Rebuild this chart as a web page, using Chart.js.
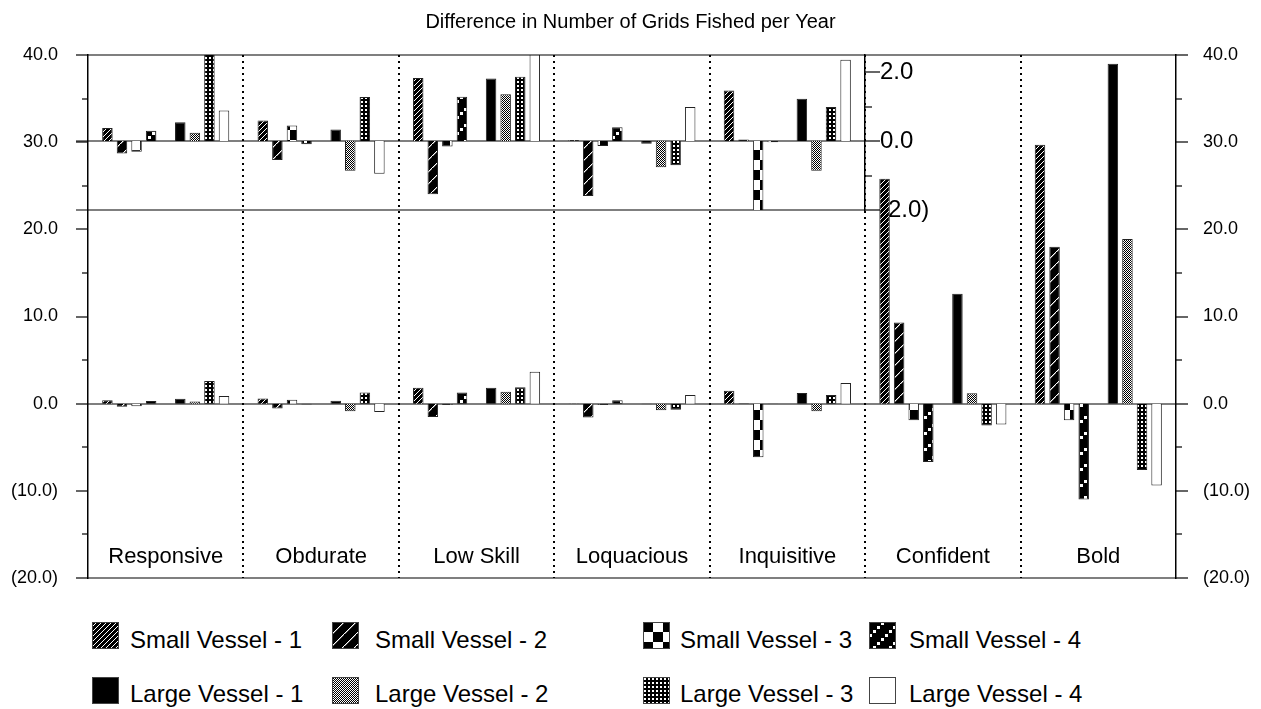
<!DOCTYPE html>
<html>
<head>
<meta charset="utf-8">
<title>Difference in Number of Grids Fished per Year</title>
<script src="https://cdn.jsdelivr.net/npm/chart.js@4/dist/chart.umd.min.js"></script>
<style>
  body { margin: 0; background: #fff; font-family: "Liberation Sans", Arial, Helvetica, sans-serif; }
  #wrap { position: relative; width: 1261px; height: 709px; overflow: hidden; background: #fff; }
  #inset { position: absolute; left: 0; top: 0; z-index: 1; }
  #main { position: absolute; left: 0; top: 0; z-index: 2; }
  .swatch { position: absolute; z-index: 3; }
  .legend-name { position: absolute; z-index: 3; font-size: 24px; line-height: 27px; color: #000; white-space: nowrap; }
</style>
</head>
<body>
<div id="wrap">
  <canvas id="inset" width="960" height="260"></canvas>
  <canvas id="main" width="1261" height="600"></canvas>
  <div id="legend"></div>
</div>
<script>
const categories = ['Responsive', 'Obdurate', 'Low Skill', 'Loquacious', 'Inquisitive', 'Confident', 'Bold'];

const smallVessel1 = [0.38, 0.60, 1.83, 0.03, 1.47, 25.8, 29.7];
const smallVessel2 = [-0.36, -0.55, -1.54, -1.59, 0.05, 9.3, 18.0];
const smallVessel3 = [-0.31, 0.45, -0.16, -0.14, -6.15, -1.9, -1.9];
const smallVessel4 = [0.30, -0.09, 1.29, 0.40, -0.03, -6.7, -11.0];
const largeVessel1 = [0.55, 0.34, 1.82, -0.08, 1.23, 12.6, 39.0];
const largeVessel2 = [0.24, -0.86, 1.36, -0.76, -0.86, 1.2, 18.9];
const largeVessel3 = [2.6, 1.28, 1.87, -0.70, 0.99, -2.5, -7.6];
const largeVessel4 = [0.89, -0.95, 3.67, 0.99, 2.36, -2.4, -9.4];

// the inset zooms into the first five categories
const insetCount = 5;

const smallSeries = [
  { label: 'Small Vessel - 1', data: smallVessel1, fill: 'sv1' },
  { label: 'Small Vessel - 2', data: smallVessel2, fill: 'sv2' },
  { label: 'Small Vessel - 3', data: smallVessel3, fill: 'sv3' },
  { label: 'Small Vessel - 4', data: smallVessel4, fill: 'sv4' },
];
const largeSeries = [
  { label: 'Large Vessel - 1', data: largeVessel1, fill: 'lv1' },
  { label: 'Large Vessel - 2', data: largeVessel2, fill: 'lv2' },
  { label: 'Large Vessel - 3', data: largeVessel3, fill: 'lv3' },
  { label: 'Large Vessel - 4', data: largeVessel4, fill: 'lv4' },
];

const FONT = '"Liberation Sans", Arial, Helvetica, sans-serif';
Chart.defaults.font.family = FONT;
Chart.defaults.color = '#000';

function fmt(v) {
  return v < 0 ? '(' + Math.abs(v).toFixed(1) + ')' : v.toFixed(1);
}

function makePattern(size, paint) {
  const c = document.createElement('canvas');
  c.width = size;
  c.height = size;
  const g = c.getContext('2d');
  paint(g, size);
  return g.createPattern(c, 'repeat');
}

const fills = {
  sv1: makePattern(5, (g, n) => {
    g.fillStyle = '#000'; g.fillRect(0, 0, n, n);
    g.fillStyle = '#fff';
    for (let i = 0; i < n; i++) g.fillRect(i, n - 1 - i, 1, 1);
  }),
  sv2: makePattern(12, (g, n) => {
    g.fillStyle = '#000'; g.fillRect(0, 0, n, n);
    g.fillStyle = '#fff';
    for (let i = 0; i < n; i++) g.fillRect(i, n - 1 - i, 1.4, 1);
  }),
  sv3: makePattern(20, (g, n) => {
    g.fillStyle = '#fff'; g.fillRect(0, 0, n, n);
    g.fillStyle = '#000';
    g.fillRect(0, 0, n / 2, n / 2);
    g.fillRect(n / 2, n / 2, n / 2, n / 2);
  }),
  sv4: makePattern(16, (g, n) => {
    g.fillStyle = '#000'; g.fillRect(0, 0, n, n);
    g.fillStyle = '#fff';
    for (let b = 0; b < 4; b++) g.fillRect(b * 4, (3 - b) * 4, 3, 3);
  }),
  lv1: '#000',
  lv2: makePattern(2, (g) => {
    g.fillStyle = '#fff'; g.fillRect(0, 0, 2, 2);
    g.fillStyle = '#000'; g.fillRect(0, 0, 1, 1); g.fillRect(1, 1, 1, 1);
  }),
  lv3: makePattern(4, (g) => {
    g.fillStyle = '#000'; g.fillRect(0, 0, 4, 4);
    g.fillStyle = '#fff'; g.fillRect(1, 1, 2, 2);
  }),
  lv4: '#fff',
};

function buildDatasets(count, extra) {
  const toSet = (s) => ({
    label: s.label,
    data: s.data.slice(0, count),
    backgroundColor: fills[s.fill],
    borderColor: '#222',
    borderWidth: 1,
    ...extra,
  });
  // an empty slot separates the small and the large vessels
  const spacer = { label: '', data: new Array(count).fill(null), ...extra };
  return [...smallSeries.map(toSet), spacer, ...largeSeries.map(toSet)];
}

function hline(ctx, x0, x1, y) {
  ctx.beginPath();
  ctx.moveTo(x0, y);
  ctx.lineTo(x1, y);
  ctx.stroke();
}

// fixed axis width; drop the label overflow so the plot area stays where it should
function fixAxis(width) {
  return (s) => {
    s.width = width;
    s.paddingTop = 0;
    s.paddingBottom = 0;
  };
}

const mainFrame = {
  id: 'mainFrame',
  beforeDatasetsDraw(chart) {
    const { ctx, chartArea: a, scales: { x, y } } = chart;
    ctx.save();
    ctx.strokeStyle = '#000';
    ctx.lineWidth = 2;
    ctx.setLineDash([2, 4]);
    for (let i = 1; i < categories.length; i++) {
      const px = Math.round((x.getPixelForValue(i - 1) + x.getPixelForValue(i)) / 2);
      ctx.beginPath();
      ctx.moveTo(px, a.top);
      ctx.lineTo(px, a.bottom);
      ctx.stroke();
    }
    ctx.setLineDash([]);
    ctx.lineWidth = 1.2;
    hline(ctx, a.left, a.right, a.top);
    hline(ctx, a.left, a.right, a.bottom);
    hline(ctx, a.left, a.right, Math.round(y.getPixelForValue(0)));
    ctx.restore();
  },
  afterDraw(chart) {
    const { ctx, chartArea: a, scales: { x, y, y2 } } = chart;
    ctx.save();
    ctx.strokeStyle = '#000';
    ctx.lineWidth = 1.2;
    for (const t of y.ticks) {
      const len = t.value % 10 === 0 ? 12 : 6;
      hline(ctx, a.left - len, a.left, Math.round(y.getPixelForValue(t.value)));
    }
    for (const t of y2.ticks) {
      const len = t.value % 10 === 0 ? 12 : 6;
      hline(ctx, a.right, a.right + len, Math.round(y2.getPixelForValue(t.value)));
    }
    ctx.fillStyle = '#000';
    ctx.font = '22px ' + FONT;
    ctx.textAlign = 'center';
    ctx.textBaseline = 'middle';
    categories.forEach((c, i) => ctx.fillText(c, x.getPixelForValue(i), a.bottom - 21));
    ctx.restore();
  },
};

const insetFrame = {
  id: 'insetFrame',
  beforeDatasetsDraw(chart) {
    const { ctx, chartArea: a, scales: { y } } = chart;
    ctx.save();
    ctx.strokeStyle = '#000';
    ctx.lineWidth = 1.2;
    hline(ctx, 76, a.right, Math.round(y.getPixelForValue(0)));
    hline(ctx, 76, a.right, a.bottom);
    ctx.restore();
  },
  afterDraw(chart) {
    const { ctx, chartArea: a, scales: { y } } = chart;
    ctx.save();
    ctx.strokeStyle = '#000';
    ctx.lineWidth = 1.2;
    for (const t of y.ticks) {
      const len = t.value % 2 === 0 ? 15 : 7;
      hline(ctx, a.right, a.right + len, Math.round(y.getPixelForValue(t.value)));
    }
    ctx.restore();
  },
};

const barShape = { barPercentage: 0.72, categoryPercentage: 0.844 };

new Chart(document.getElementById('inset'), {
  type: 'bar',
  data: { labels: categories.slice(0, insetCount), datasets: buildDatasets(insetCount, { clip: 0 }) },
  options: {
    responsive: false,
    animation: false,
    layout: { padding: { left: 88, right: 0, top: 55, bottom: 50 } },
    datasets: { bar: barShape },
    plugins: { legend: { display: false }, tooltip: { enabled: false } },
    scales: {
      x: { display: false },
      y: {
        position: 'right',
        min: -2,
        max: 2.5,
        ticks: {
          stepSize: 1,
          includeBounds: false,
          padding: 15,
          font: { size: 24 },
          callback: (v) => (v % 2 === 0 ? fmt(v) : ''),
        },
        grid: { display: false, drawTicks: false },
        border: { display: true, color: '#000', width: 1.5 },
        afterFit: fixAxis(95),
      },
    },
  },
  plugins: [insetFrame],
});

const sideAxis = (position, padding, width) => ({
  position,
  min: -20,
  max: 40,
  ticks: {
    stepSize: 5,
    padding,
    font: { size: 18 },
    callback: (v) => (v % 10 === 0 ? fmt(v) : ''),
  },
  grid: { display: false, drawTicks: false },
  border: { display: true, color: '#000', width: 1.5 },
  afterFit: fixAxis(width),
});

new Chart(document.getElementById('main'), {
  type: 'bar',
  data: { labels: categories, datasets: buildDatasets(categories.length, {}) },
  options: {
    responsive: false,
    animation: false,
    layout: { padding: { left: 0, right: 0, top: 0, bottom: 22 } },
    datasets: { bar: barShape },
    plugins: {
      legend: { display: false },
      tooltip: { enabled: false },
      title: {
        display: true,
        text: 'Difference in Number of Grids Fished per Year',
        color: '#000',
        font: { size: 20, weight: 'normal', lineHeight: 1.2 },
        padding: { top: 10, bottom: 21 },
      },
    },
    scales: {
      x: { display: false },
      y: sideAxis('left', 30, 88),
      y2: sideAxis('right', 27, 85),
    },
  },
  plugins: [mainFrame],
});

// legend: two rows of four, swatches painted with the same fills as the bars
const legendCols = [{ sx: 92, tx: 130 }, { sx: 332, tx: 375 }, { sx: 643, tx: 680 }, { sx: 869, tx: 909 }];
const legendRows = [{ sy: 622, ty: 626 }, { sy: 677, ty: 680 }];
const legendEl = document.getElementById('legend');
[smallSeries, largeSeries].forEach((row, r) => {
  row.forEach((s, c) => {
    const sw = document.createElement('canvas');
    sw.className = 'swatch';
    sw.width = 27;
    sw.height = 27;
    sw.style.left = legendCols[c].sx + 'px';
    sw.style.top = legendRows[r].sy + 'px';
    const g = sw.getContext('2d');
    g.fillStyle = fills[s.fill];
    g.fillRect(0, 0, 27, 27);
    g.strokeStyle = '#444';
    g.lineWidth = 1;
    g.strokeRect(0.5, 0.5, 26, 26);
    const name = document.createElement('div');
    name.className = 'legend-name';
    name.textContent = s.label;
    name.style.left = legendCols[c].tx + 'px';
    name.style.top = legendRows[r].ty + 'px';
    legendEl.append(sw, name);
  });
});
</script>
</body>
</html>
